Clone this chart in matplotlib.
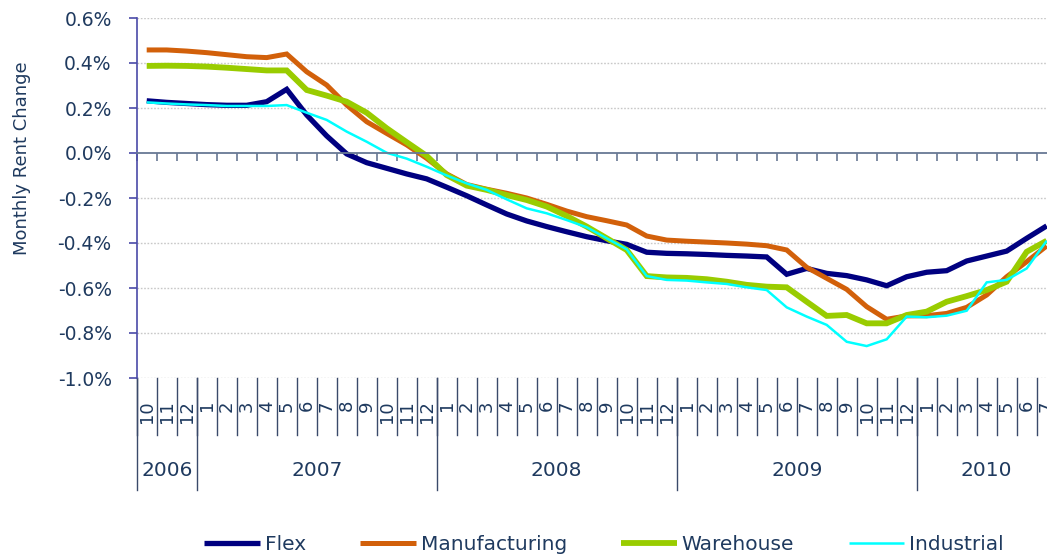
import matplotlib
matplotlib.use("Agg")
import matplotlib.pyplot as plt
import matplotlib.transforms as mtransforms
import numpy as np

# ---------------- data ----------------
months = [10, 11, 12,
          1, 2, 3, 4, 5, 6, 7, 8, 9, 10, 11, 12,
          1, 2, 3, 4, 5, 6, 7, 8, 9, 10, 11, 12,
          1, 2, 3, 4, 5, 6, 7, 8, 9, 10, 11, 12,
          1, 2, 3, 4, 5, 6, 7]
years = ["2006", "2007", "2008", "2009", "2010"]
year_counts = [3, 12, 12, 12, 7]

flex = [0.232, 0.225, 0.220, 0.215, 0.212, 0.212, 0.228, 0.283, 0.169, 0.076,
        -0.004, -0.043, -0.068, -0.093, -0.115, -0.152, -0.190, -0.231, -0.271, -0.302,
        -0.327, -0.350, -0.372, -0.390, -0.406, -0.441, -0.446, -0.448, -0.451, -0.455,
        -0.458, -0.462, -0.539, -0.513, -0.535, -0.545, -0.564, -0.590, -0.550, -0.530,
        -0.523, -0.480, -0.458, -0.436, -0.379, -0.324]
manufacturing = [0.458, 0.458, 0.453, 0.446, 0.437, 0.428, 0.424, 0.440, 0.361, 0.302,
                 0.213, 0.139, 0.087, 0.036, -0.024, -0.093, -0.140, -0.161, -0.179, -0.200,
                 -0.228, -0.258, -0.283, -0.301, -0.320, -0.369, -0.387, -0.392, -0.396, -0.400,
                 -0.405, -0.412, -0.431, -0.508, -0.557, -0.606, -0.683, -0.739, -0.724, -0.723,
                 -0.713, -0.686, -0.631, -0.550, -0.483, -0.413]
warehouse = [0.387, 0.388, 0.387, 0.384, 0.379, 0.373, 0.367, 0.367, 0.280, 0.255,
             0.228, 0.179, 0.110, 0.048, -0.013, -0.098, -0.145, -0.164, -0.187, -0.209,
             -0.238, -0.280, -0.327, -0.379, -0.431, -0.547, -0.553, -0.555, -0.561, -0.572,
             -0.586, -0.594, -0.597, -0.661, -0.724, -0.720, -0.757, -0.757, -0.720, -0.705,
             -0.661, -0.636, -0.609, -0.572, -0.439, -0.390]
industrial = [0.225, 0.220, 0.216, 0.213, 0.209, 0.209, 0.209, 0.213, 0.179, 0.147,
              0.095, 0.050, 0.001, -0.025, -0.061, -0.100, -0.135, -0.164, -0.206, -0.246,
              -0.268, -0.298, -0.330, -0.379, -0.428, -0.547, -0.564, -0.567, -0.575, -0.582,
              -0.597, -0.609, -0.686, -0.727, -0.764, -0.839, -0.858, -0.828, -0.727, -0.730,
              -0.723, -0.701, -0.575, -0.564, -0.513, -0.390]
series_names = ["Flex", "Manufacturing", "Warehouse", "Industrial"]
y_ticks = [0.6, 0.4, 0.2, 0.0, -0.2, -0.4, -0.6, -0.8, -1.0]

# ---------------- style ----------------
TXT = "#1F3A5F"
colors = ["#000080", "#D2600A", "#99CC00", "#00FFFF"]
widths = [3.8, 3.6, 4.2, 1.8]

W, H = 1047, 557
fig = plt.figure(figsize=(W / 100, H / 100), dpi=100)
left_px, right_px, top_px, bot_px = 136.7, 1056.7, 18, 378
ax = fig.add_axes([left_px / W, 1 - bot_px / H, (right_px - left_px) / W, (bot_px - top_px) / H])

n = len(months)
x = np.arange(n)
for vals, name, c, lw in zip([flex, manufacturing, warehouse, industrial], series_names, colors, widths):
    ax.plot(x, vals, color=c, lw=lw, label=name, solid_joinstyle="miter", solid_capstyle="butt")

ax.set_xlim(-0.5, n - 0.5)
ax.set_ylim(-1.0, 0.6)

# grid
for t in y_ticks:
    if t != 0.0:
        ax.axhline(t, color="#C8C8C8", lw=1.0, linestyle=(0, (1.2, 1.2)), zorder=0)

# spines
for s in ["top", "right"]:
    ax.spines[s].set_visible(False)
ax.spines["left"].set_color("#4A4AA8")
ax.spines["left"].set_linewidth(1.2)
ax.spines["bottom"].set_position(("data", 0))
ax.spines["bottom"].set_color("#687894")
ax.spines["bottom"].set_linewidth(1.3)

ax.set_yticks(y_ticks)
ax.set_yticklabels([f"{t:.1f}%" for t in y_ticks])
ax.tick_params(axis="y", direction="out", length=6, width=1.2, color="#4A4AA8",
               labelsize=13.5, labelcolor=TXT, pad=12)

ax.set_xticks([])
ax.set_xticks(np.arange(-0.5, n + 0.5, 1), minor=True)
ax.tick_params(axis="x", which="minor", direction="out", length=6, width=1.2,
               color="#687894", labelbottom=False)

# category labels below the plot
trans = mtransforms.blended_transform_factory(ax.transData, ax.transAxes)
ax_h = bot_px - top_px
month_sep_bottom = -(435 - bot_px) / ax_h
year_sep_bottom = -(490 - bot_px) / ax_h
label_top = -(400 - bot_px) / ax_h
year_y = -(471 - bot_px) / ax_h

for i, m in enumerate(months):
    ax.text(i, label_top, str(m), rotation=90, ha="center", va="top",
            fontsize=13, color=TXT, transform=trans, clip_on=False)
for b in np.arange(-0.5, n + 0.5, 1):
    ax.plot([b, b], [0, month_sep_bottom], color="#3A4A6A", lw=1.0,
            transform=trans, clip_on=False)

start = 0
bounds = [-0.5]
for yname, cnt in zip(years, year_counts):
    ax.text(start + cnt / 2 - 0.5, year_y, yname, ha="center", va="center",
            fontsize=14.5, color=TXT, transform=trans, clip_on=False)
    start += cnt
    bounds.append(start - 0.5)
for b in bounds:
    ax.plot([b, b], [0, year_sep_bottom], color="#3A4A6A", lw=1.0,
            transform=trans, clip_on=False)

fig.text(22 / W, 1 - 158 / H, "Monthly Rent Change", rotation=90, ha="center", va="center",
         fontsize=13, color=TXT)

leg = fig.legend(loc="center", ncol=4, bbox_to_anchor=(604 / W, 1 - 545 / H), frameon=False,
                 fontsize=14.5, handlelength=2.75, handletextpad=0.25, columnspacing=2.7,
                 borderpad=0)
for t in leg.get_texts():
    t.set_color(TXT)

fig.savefig("out.png", dpi=100)
